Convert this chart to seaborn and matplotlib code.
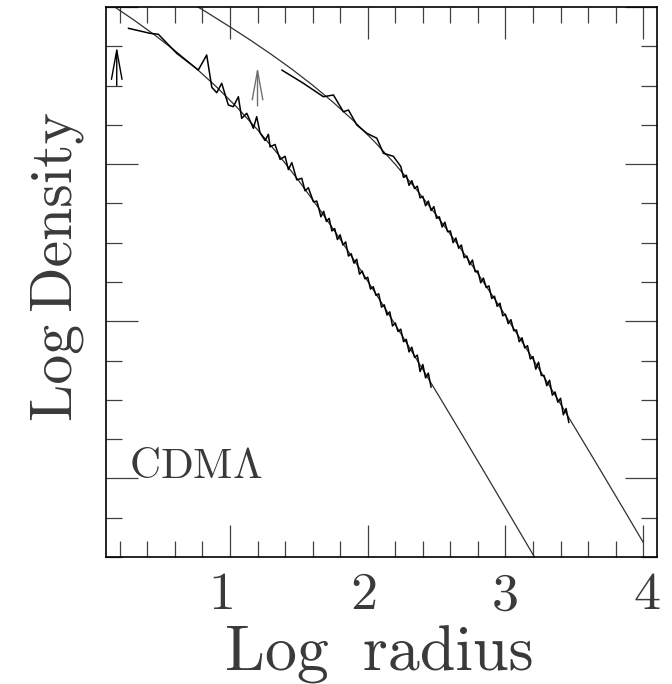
import matplotlib
matplotlib.use("Agg")
import matplotlib.pyplot as plt
import matplotlib.transforms as mtransforms
import seaborn as sns
import pandas as pd
from matplotlib.ticker import MultipleLocator, FixedLocator, NullFormatter
from matplotlib.patches import FancyArrowPatch

# ---------------- data ----------------
# small halo: simulated profile (noisy)
small_x = [0.262, 0.420, 0.480, 0.613, 0.770, 0.831, 0.868, 0.904, 0.940, 0.988,
           1.024, 1.061, 1.085, 1.122, 1.170, 1.194, 1.218, 1.255, 1.279, 1.291,
           1.327, 1.364, 1.400, 1.424, 1.449, 1.485, 1.521, 1.545, 1.569, 1.606,
           1.630,
           1.64, 1.66, 1.68, 1.70, 1.72, 1.74, 1.76, 1.78, 1.80, 1.82,
           1.84, 1.86, 1.88, 1.90, 1.92, 1.94, 1.96, 1.98, 2.00, 2.02,
           2.04, 2.06, 2.08, 2.10, 2.12, 2.14, 2.16, 2.18, 2.20, 2.22,
           2.24, 2.26, 2.28, 2.30, 2.32, 2.34, 2.36, 2.38, 2.40, 2.42,
           2.44, 2.46]
small_y = [2.729, 2.665, 2.653, 2.411, 2.198, 2.389, 1.978, 1.909, 2.029, 1.753,
           1.731, 1.858, 1.583, 1.647, 1.456, 1.604, 1.40, 1.30, 1.38, 1.22,
           1.25, 1.06, 1.10, 0.93, 1.02, 0.80, 0.82, 0.66, 0.70, 0.52,
           0.53,
           0.47, 0.33, 0.40, 0.27, 0.31, 0.15, 0.18, 0.04, 0.10, -0.03,
           0.01, -0.17, -0.14, -0.26, -0.21, -0.40, -0.36, -0.46, -0.44, -0.59,
           -0.56, -0.67, -0.65, -0.82, -0.79, -0.92, -0.88, -1.06, -1.02, -1.13,
           -1.10, -1.26, -1.23, -1.39, -1.33, -1.46, -1.43, -1.64, -1.55, -1.72,
           -1.66, -1.84]

# large halo: simulated profile (noisy)
large_x = [1.376, 1.533, 1.678, 1.751, 1.823, 1.860, 1.921, 1.993, 2.066, 2.114,
           2.186,
           2.24, 2.26, 2.28, 2.30, 2.32, 2.34, 2.36, 2.38, 2.40, 2.42,
           2.44, 2.46, 2.48, 2.50, 2.52, 2.54, 2.56, 2.58, 2.60, 2.62,
           2.64, 2.66, 2.68, 2.70, 2.72, 2.74, 2.76, 2.78, 2.80, 2.82,
           2.84, 2.86, 2.88, 2.90, 2.92, 2.94, 2.96, 2.98, 3.00, 3.02,
           3.04, 3.06, 3.08, 3.10, 3.12, 3.14, 3.16, 3.18, 3.20, 3.22,
           3.24, 3.26, 3.28, 3.30, 3.32, 3.34, 3.36, 3.38, 3.40, 3.42,
           3.44, 3.46]
large_y = [2.198, 2.029, 1.858, 1.880, 1.667, 1.689, 1.498, 1.393, 1.330, 1.138,
           1.100,
           0.97, 0.83, 0.86, 0.73, 0.79, 0.69, 0.72, 0.57, 0.59, 0.47,
           0.53, 0.41, 0.46, 0.31, 0.33, 0.20, 0.26, 0.14, 0.15, 0.00,
           0.06, -0.07, -0.03, -0.19, -0.17, -0.28, -0.22, -0.37, -0.36, -0.51,
           -0.45, -0.57, -0.55, -0.71, -0.68, -0.81, -0.77, -0.93, -0.91, -1.03,
           -0.98, -1.12, -1.11, -1.26, -1.21, -1.34, -1.31, -1.48, -1.45, -1.61,
           -1.52, -1.69, -1.69, -1.82, -1.75, -1.94, -1.90, -2.03, -1.98, -2.19,
           -2.11, -2.29]

# smooth fits
fit_small_x = [0.10, 0.15, 0.30, 0.45, 0.60, 0.75, 0.90, 1.05, 1.20, 1.35, 1.50,
               1.65, 1.80, 1.95, 2.10, 2.25, 2.40, 2.55, 2.70, 2.85, 3.00, 3.10, 3.21]
fit_small_y = [3.074, 3.016, 2.837, 2.648, 2.445, 2.226, 1.987, 1.725, 1.438, 1.125, 0.787,
               0.426, 0.045, -0.352, -0.763, -1.184, -1.613, -2.048, -2.487, -2.929, -3.374,
               -3.671, -3.999]
fit_large_x = [0.70, 0.85, 1.00, 1.15, 1.30, 1.45, 1.60, 1.75, 1.90, 2.05, 2.20, 2.35,
               2.50, 2.65, 2.80, 2.95, 3.10, 3.25, 3.40, 3.55, 3.70, 3.85, 4.00]
fit_large_y = [3.073, 2.912, 2.747, 2.576, 2.397, 2.208, 2.005, 1.786, 1.547, 1.285, 0.998, 0.685,
               0.347, -0.014, -0.395, -0.792, -1.203, -1.624, -2.053, -2.488, -2.927, -3.369, -3.814]

# arrows (x, y_start, y_end)
arrow_small = (0.178, 2.0, 2.5)
arrow_large = (1.20, 1.74, 2.24)

x_ticks = [1, 2, 3, 4]
label_text = r"CDM$\Lambda$"

# ---------------- plotting ----------------
sns.set_theme(style="ticks")
plt.rcParams["font.family"] = ["cmr10", "DejaVu Serif"]
plt.rcParams["mathtext.fontset"] = "cm"
plt.rcParams["axes.formatter.use_mathtext"] = True

W, H = 672, 684
fig = plt.figure(figsize=(W / 100, H / 100), dpi=100)
ax = fig.add_axes([106 / W, 1 - 557 / H, 551 / W, 550 / H])

def draw(xs, ys, color, lw):
    df = pd.DataFrame({"x": xs, "y": ys})
    sns.lineplot(data=df, x="x", y="y", sort=False, estimator=None,
                 color=color, lw=lw, ax=ax)

draw(fit_small_x, fit_small_y, "#303030", 0.9)
draw(fit_large_x, fit_large_y, "#303030", 0.9)
draw(small_x, small_y, "black", 1.1)
draw(large_x, large_y, "black", 1.1)

for (ax_x, y0, y1), col in [(arrow_small, "black"), (arrow_large, "#707070")]:
    ax.add_patch(FancyArrowPatch((ax_x, y0), (ax_x, y1),
                                 arrowstyle="->,head_length=1.05,head_width=0.19",
                                 mutation_scale=20, color=col, lw=1.0,
                                 shrinkA=0, shrinkB=0))

ax.set_xlim(0.1, 4.1)
ax.set_ylim(-4, 3)
ax.set_xlabel("")
ax.set_ylabel("")
ax.xaxis.set_major_locator(FixedLocator(x_ticks))
ax.xaxis.set_minor_locator(MultipleLocator(0.2))
ax.yaxis.set_major_locator(FixedLocator([-3, -1, 1, 3]))
ax.yaxis.set_minor_locator(MultipleLocator(0.5))
ax.yaxis.set_major_formatter(NullFormatter())
ax.set_xticklabels([str(t) for t in x_ticks])
ax.tick_params(which="both", direction="in", top=True, right=True,
               color="#404040", width=0.9)
ax.tick_params(which="major", length=23)
ax.tick_params(which="minor", length=11.5)
ax.tick_params(axis="x", labelsize=39, pad=11, labelcolor="#3a3a3a")
for s in ax.spines.values():
    s.set_linewidth(1.2)
    s.set_color("black")

# small horizontal shifts of the tick labels, as in the reference
for lab, dx in zip(ax.get_xticklabels(), [-8, -4, 0, 4]):
    lab.set_transform(lab.get_transform() +
                      mtransforms.ScaledTranslation(dx / 100, 0, fig.dpi_scale_trans))

ax.text(0.27, -3.0, label_text, fontsize=31, va="baseline", ha="left", color="#3a3a3a")

fig.text(379 / W, 1 - 670 / H, "Log\u2009 radius", fontsize=46, ha="center", va="baseline",
         color="#3a3a3a")
fig.text(72 / W, 1 - 267 / H, "Log\u2009Density", fontsize=43, ha="center", va="baseline",
         rotation=90, rotation_mode="anchor", color="#3a3a3a")

fig.savefig("out.png", dpi=100)
